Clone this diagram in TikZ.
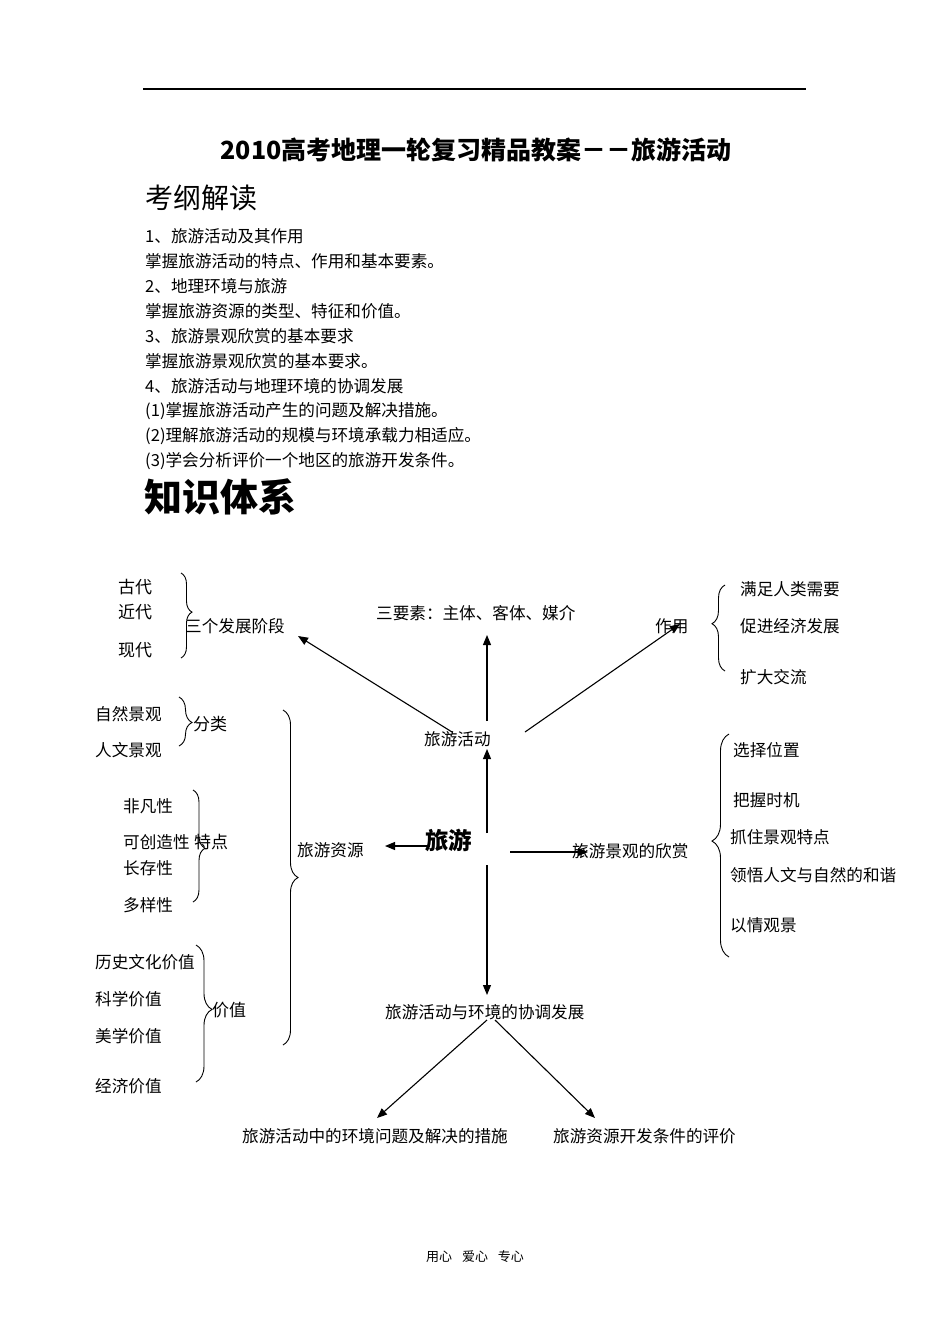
\documentclass[tikz,border=0pt]{standalone}
\usepackage{fontspec}
\setmainfont{Noto Sans CJK SC}
\usetikzlibrary{arrows.meta,decorations.pathreplacing}
\tikzset{
  txt/.style={inner sep=0pt, anchor=west, font=\fontsize{16.6}{16.6}\selectfont},
  hei/.style={inner sep=0pt, anchor=west, font=\fontsize{17}{17}\selectfont},
  arr/.style={-{Triangle[length=10pt,width=8pt]}, line width=1.1pt},
  brc/.style={decorate, decoration={brace, amplitude=#1}, line width=0.9pt},
  brc/.default=12pt,
}
\begin{document}
\begin{tikzpicture}[x=1pt,y=-1pt]
\useasboundingbox (0,0) rectangle (950,1344);
% header rule
\draw[line width=1.3pt] (143,89) -- (806,89);
\node[inner sep=0pt, font=\fontsize{25}{25}\selectfont\bfseries] (title) at (476,150) {2010高考地理一轮复习精品教案－－旅游活动};
\node[inner sep=0pt, anchor=west, font=\fontsize{28}{28}\selectfont] (kg) at (145,198) {考纲解读};
% outline
\node[txt] (o1) at (145,236) {1、旅游活动及其作用};
\node[txt] (o2) at (145,261) {掌握旅游活动的特点、作用和基本要素。};
\node[txt] (o3) at (145,286) {2、地理环境与旅游};
\node[txt] (o4) at (145,311) {掌握旅游资源的类型、特征和价值。};
\node[txt] (o5) at (145,336) {3、旅游景观欣赏的基本要求};
\node[txt] (o6) at (145,361) {掌握旅游景观欣赏的基本要求。};
\node[txt] (o7) at (145,386) {4、旅游活动与地理环境的协调发展};
\node[txt] (o8) at (145,411) {(1)掌握旅游活动产生的问题及解决措施。};
\node[txt] (o9) at (145,436) {(2)理解旅游活动的规模与环境承载力相适应。};
\node[txt] (o10) at (145,461) {(3)学会分析评价一个地区的旅游开发条件。};
\node[inner sep=0pt, anchor=west, font=\fontsize{38}{38}\selectfont\bfseries] (zs) at (144,497) {知识体系};

% ---------- diagram ----------
% top-left: stages
\node[hei] (gd) at (118,587) {古代};
\node[hei] (jd) at (118,612) {近代};
\node[hei] (xd) at (118,650) {现代};
\draw[brc=11pt, decoration={aspect=0.46}] (181,573) -- (181,658);
\node[txt] (stages) at (185,626) {三个发展阶段};

% three elements
\node[txt] (ele) at (376,613) {三要素：主体、客体、媒介};

% role
\node[txt] (role) at (655,626) {作用};
\draw[brc=13pt, decoration={aspect=0.55}] (725,671) -- (725,585);
\node[txt] (r1) at (740,589) {满足人类需要};
\node[txt] (r2) at (740,626) {促进经济发展};
\node[txt] (r3) at (740,677) {扩大交流};

% tourism activity
\node[txt] (act) at (424,739) {旅游活动};
\coordinate (actL) at (452,732);
\coordinate (actR) at (525,732);
\coordinate (actT) at (487,721);
\coordinate (stT) at (298,636);
\coordinate (eleB) at (487,635);
\coordinate (roleT) at (680,624);
\draw[arr] (actL) -- (stT);
\draw[arr] (actT) -- (eleB);
\draw[arr] (actR) -- (roleT);

% center
\node[inner sep=0pt, anchor=west, font=\fontsize{23.5}{23.5}\selectfont\bfseries] (ly) at (425,840) {旅游};
\coordinate (lyT) at (487,833);
\coordinate (actB) at (487,749);
\coordinate (lyB) at (487,865);
\coordinate (lyR) at (510,852);
\coordinate (lyL) at (430,846);
\draw[arr] (lyT) -- (actB);

% resources
\node[txt] (res) at (297,850) {旅游资源};
\coordinate (resR) at (385,846);
\draw[arr] (lyL) -- (resR);
\draw[brc=15pt, decoration={aspect=0.5}] (283,710) -- (283,1045);

\node[txt] (n1) at (95,714) {自然景观};
\node[txt] (n2) at (95,750) {人文景观};
\draw[brc=13pt, decoration={aspect=0.52}] (179,697) -- (179,746);
\node[hei] (fl) at (193,724) {分类};

\node[txt] (t1) at (123,806) {非凡性};
\node[txt] (t2) at (123,842) {可创造性};
\node[txt] (t3) at (123,868) {长存性};
\node[txt] (t4) at (123,905) {多样性};
\draw[brc=12pt, decoration={aspect=0.52}] (193,790) -- (193,902);
\node[hei] (td) at (194,842) {特点};

\node[txt] (v1) at (95,962) {历史文化价值};
\node[txt] (v2) at (95,999) {科学价值};
\node[txt] (v3) at (95,1036) {美学价值};
\node[txt] (v4) at (95,1086) {经济价值};
\draw[brc=16pt, decoration={aspect=0.47}] (196,945) -- (196,1082);
\node[hei] (jz) at (212,1010) {价值};

% appreciation
\node[txt] (app) at (572,851) {旅游景观的欣赏};
\coordinate (appL) at (588,852);
\draw[arr] (lyR) -- (appL);
\draw[brc=17pt, decoration={aspect=0.52}] (729,957) -- (729,734);
\node[txt] (a1) at (733,750) {选择位置};
\node[txt] (a2) at (733,800) {把握时机};
\node[txt] (a3) at (730,837) {抓住景观特点};
\node[txt] (a4) at (730,875) {领悟人文与自然的和谐};
\node[txt] (a5) at (730,925) {以情观景};

% coordination
\node[txt] (co) at (385,1012) {旅游活动与环境的协调发展};
\coordinate (coT) at (487,995);
\draw[arr] (lyB) -- (coT);
\coordinate (coBL) at (487,1020);
\coordinate (coBR) at (495,1020);
\node[txt] (c1) at (242,1136) {旅游活动中的环境问题及解决的措施};
\node[txt] (c2) at (553,1136) {旅游资源开发条件的评价};
\coordinate (c1T) at (377,1118);
\coordinate (c2T) at (595,1118);
\draw[arr] (coBL) -- (c1T);
\draw[arr] (coBR) -- (c2T);

% footer
\node[inner sep=0pt, font=\fontsize{13}{13}\selectfont] (ft) at (475,1257) {用心\hspace{10pt}爱心\hspace{10pt}专心};
\end{tikzpicture}
\end{document}
